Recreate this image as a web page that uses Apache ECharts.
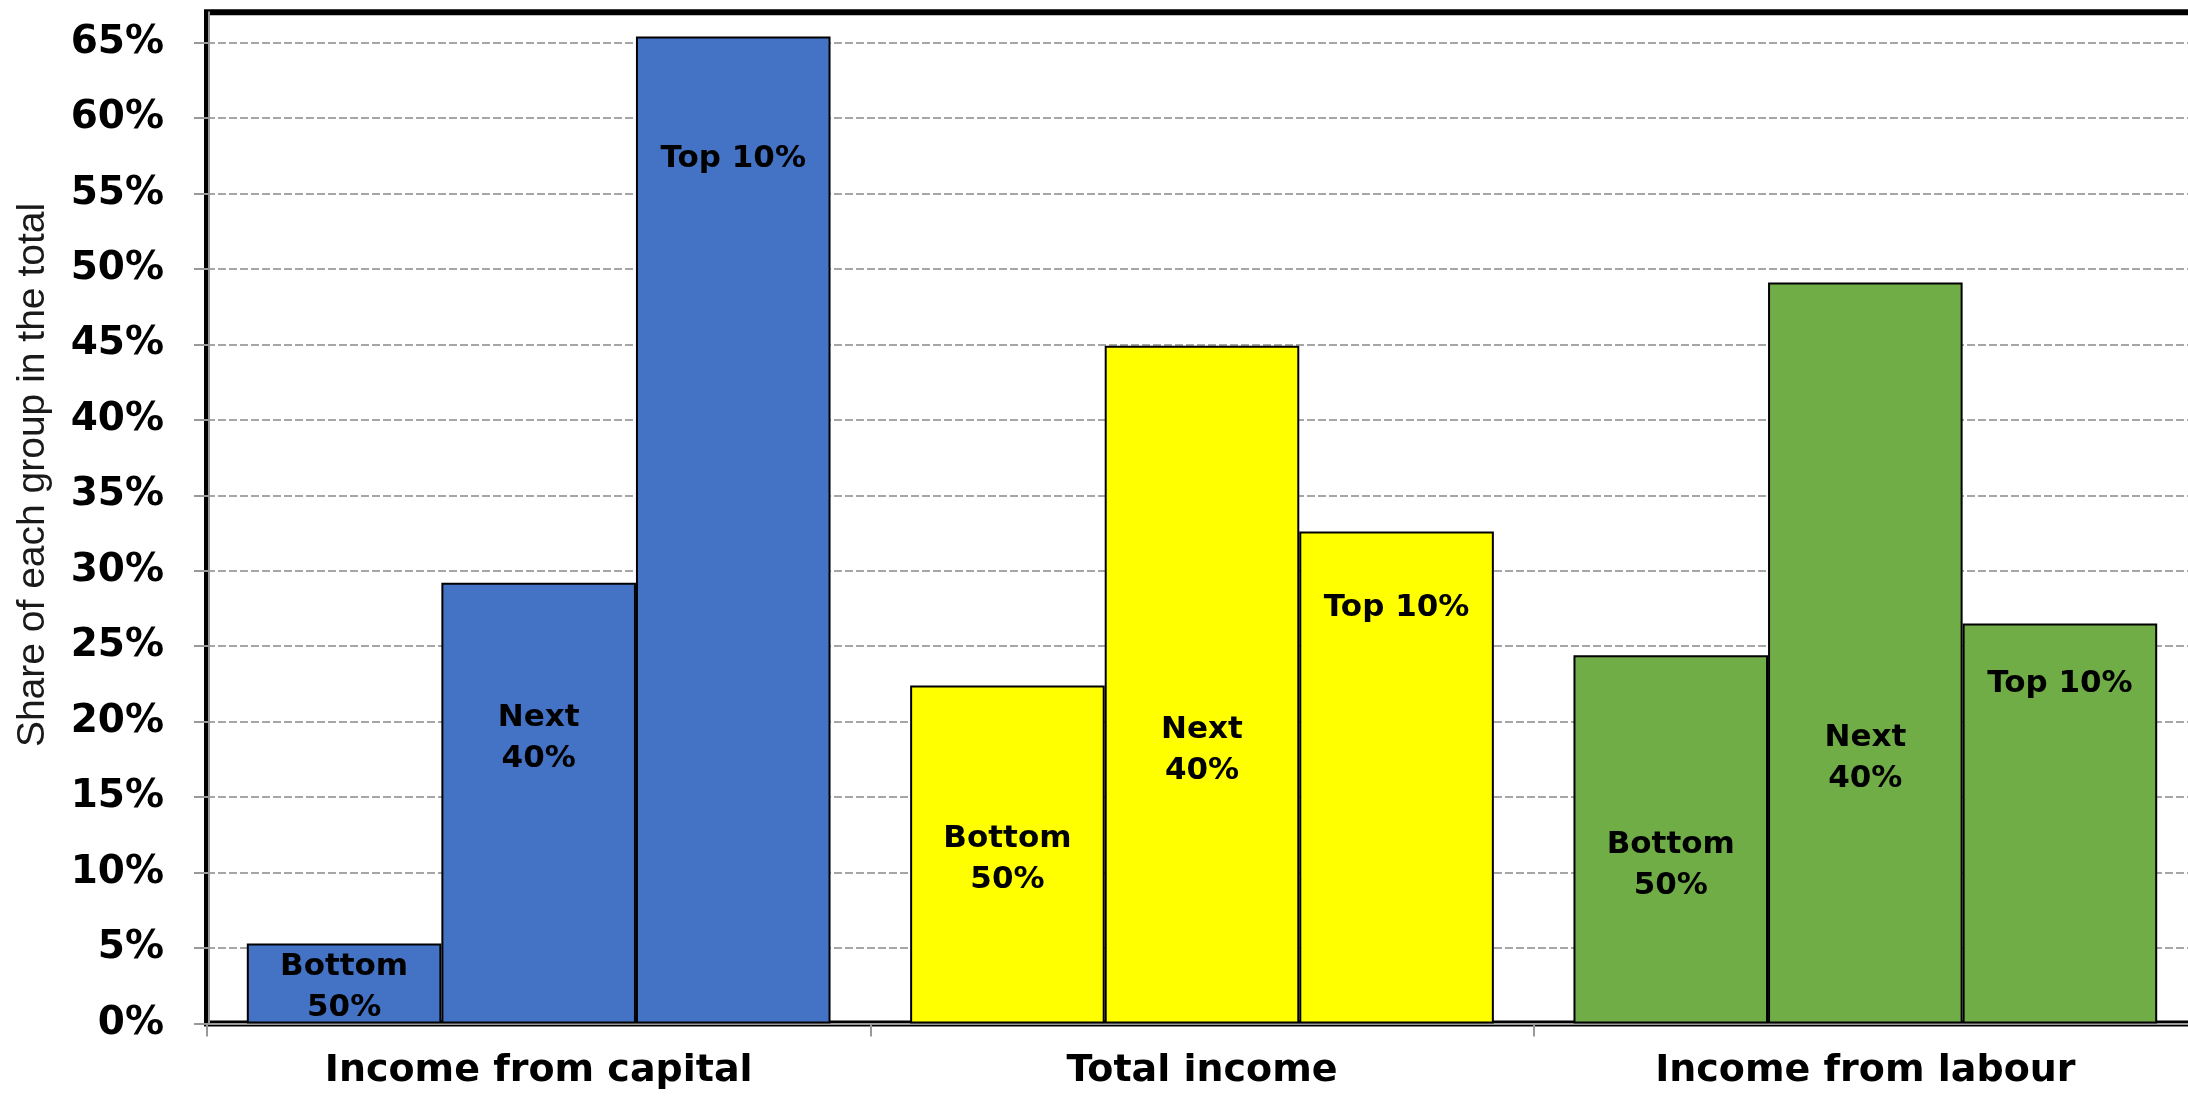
<!DOCTYPE html>
<html>
<head>
<meta charset="utf-8">
<script src="https://cdn.jsdelivr.net/npm/echarts@6/dist/echarts.min.js"></script>
<style>
html,body{margin:0;padding:0;background:#fff;overflow:hidden;}
#chart{width:2215px;height:1099px;}
</style>
</head>
<body>
<div id="chart"></div>
<script>
// ---- data ----
const categories = ['Income from capital', 'Total income', 'Income from labour'];
const groupNames = ['Bottom 50%', 'Next 40%', 'Top 10%'];
const groupLabels = ['Bottom\n50%', 'Next\n40%', 'Top 10%'];
const bottom50 = [5.3, 22.4, 24.4];
const next40 = [29.2, 44.9, 49.1];
const top10 = [65.4, 32.6, 26.5];
const yAxisTitle = 'Share of each group in the total';

// ---- styles ----
const categoryColors = ['#4472C4', '#FFFF00', '#70AD47'];
// distance (px) from bar top to label centre, per category, per group
const labelOffsets = [
  [44, 156, 123],
  [174, 405, 76],
  [210, 476, 60]
];

const seriesValues = [bottom50, next40, top10];

const chart = echarts.init(document.getElementById('chart'), null, {renderer: 'canvas'});

const series = seriesValues.map((vals, gi) => ({
  name: groupNames[gi],
  type: 'bar',
  barGap: '0%',
  barCategoryGap: '12%',
  data: vals.map((v, ci) => ({
    value: v,
    itemStyle: {color: categoryColors[ci]},
    label: {position: ['50%', labelOffsets[ci][gi]]}
  })),
  itemStyle: {borderColor: '#000', borderWidth: 2},
  label: {
    show: true,
    formatter: groupLabels[gi],
    fontFamily: 'DejaVu Sans',
    fontWeight: 'bold',
    fontSize: 31,
    lineHeight: 41,
    color: '#000',
    align: 'center',
    verticalAlign: 'middle'
  },
  emphasis: {disabled: true}
}));

chart.setOption({
  animation: false,
  backgroundColor: '#fff',
  grid: {
    left: 207, width: 1990, top: 12.3, height: 1011.2,
    show: true, borderColor: '#000', borderWidth: 6, backgroundColor: 'transparent'
  },
  xAxis: {
    type: 'category',
    data: categories,
    offset: 2,
    axisLine: {lineStyle: {color: '#999', width: 2}},
    axisTick: {show: true, length: 13, lineStyle: {color: '#999', width: 2}},
    axisLabel: {
      margin: 27,
      fontFamily: 'DejaVu Sans', fontWeight: 'bold', fontSize: 38, color: '#000'
    },
    splitLine: {show: false}
  },
  yAxis: {
    type: 'value',
    min: 0, max: 67, interval: 5,
    offset: -2,
    axisLine: {show: true, lineStyle: {color: '#999', width: 2}},
    axisTick: {show: true, length: 15, lineStyle: {color: '#999', width: 2}},
    axisLabel: {
      showMaxLabel: false,
      margin: 45,
      formatter: '{value}%',
      fontFamily: 'DejaVu Sans', fontWeight: 'bold', fontSize: 39, color: '#000'
    },
    splitLine: {show: true, showMaxLine: false, showMinLine: false,
      lineStyle: {color: '#a6a6a6', width: 2, type: [8, 3]}}
  },
  graphic: [{
    type: 'text',
    x: 33, y: 475,
    rotation: Math.PI / 2,
    style: {
      text: yAxisTitle,
      font: '39px "Liberation Sans", Arial, sans-serif',
      fill: '#1a1a1a',
      align: 'center',
      verticalAlign: 'middle'
    }
  }],
  series: series
});
</script>
</body>
</html>
